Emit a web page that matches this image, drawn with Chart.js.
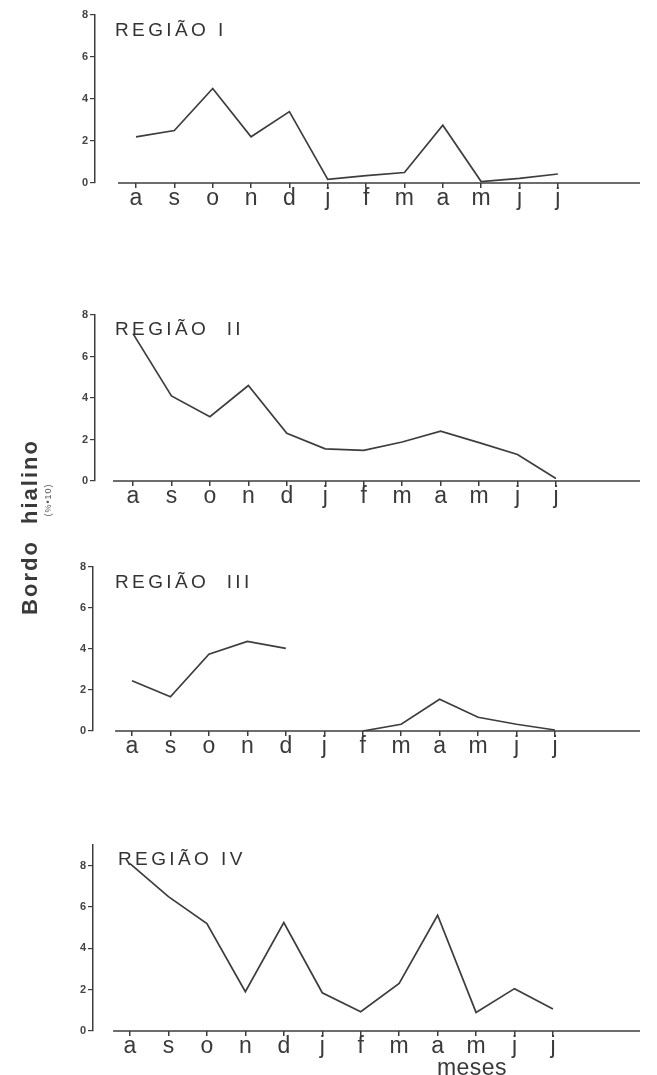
<!DOCTYPE html>
<html>
<head>
<meta charset="utf-8">
<script src="https://cdn.jsdelivr.net/npm/chart.js@4.4.1/dist/chart.umd.min.js"></script>
<style>
  html, body { margin: 0; padding: 0; background: #fff; }
  body { width: 657px; height: 1075px; position: relative; overflow: hidden;
         font-family: "Liberation Sans", Arial, sans-serif; color: #3a3a3a; }
  canvas.painel { position: absolute; left: 0; }
  .titulo { position: absolute; font-size: 19px; line-height: 19px; letter-spacing: 3.4px; color: #333; white-space: pre; }
  .eixo-y { position: absolute; left: 30px; top: 527px; transform: translate(-50%, -50%) rotate(-90deg);
            font-size: 22px; font-weight: bold; letter-spacing: 2px; white-space: pre; color: #3a3a3a; }
  .unidade { position: absolute; left: 48px; top: 500px; transform: translate(-50%, -50%) rotate(-90deg);
             font-size: 9px; letter-spacing: 1px; white-space: pre; color: #555; }
  .meses { position: absolute; left: 472px; top: 1067px; transform: translate(-50%, -50%);
           font-size: 23px; line-height: 23px; letter-spacing: 0.5px; color: #3a3a3a; }
</style>
</head>
<body>
<canvas id="p1" class="painel" width="657" height="218" style="top:5px"></canvas>
<canvas id="p2" class="painel" width="657" height="216" style="top:305px"></canvas>
<canvas id="p3" class="painel" width="657" height="214" style="top:557px"></canvas>
<canvas id="p4" class="painel" width="657" height="236" style="top:835px"></canvas>

<div class="titulo" style="left:115px; top:20px">REGIÃO I</div>
<div class="titulo" style="left:115px; top:319px">REGIÃO  II</div>
<div class="titulo" style="left:115px; top:572px">REGIÃO  III</div>
<div class="titulo" style="left:118px; top:849px">REGIÃO IV</div>
<div class="eixo-y">Bordo  hialino</div>
<div class="unidade">(%•10)</div>
<div class="meses">meses</div>

<script>
const meses = ['a', 's', 'o', 'n', 'd', 'j', 'f', 'm', 'a', 'm', 'j', 'j'];
const yTicks = [0, 2, 4, 6, 8];

const regiaoI = [2.2, 2.5, 4.5, 2.2, 3.4, 0.17, 0.35, 0.5, 2.75, 0.07, 0.22, 0.43];
const regiaoII = [7.1, 4.1, 3.1, 4.6, 2.3, 1.55, 1.48, 1.88, 2.4, 1.85, 1.28, 0.12];
const regiaoIII = [2.45, 1.67, 3.75, 4.37, 4.03, null, 0, 0.33, 1.55, 0.67, 0.33, 0.05];
const regiaoIV = [8.1, 6.5, 5.2, 1.9, 5.25, 1.85, 0.93, 2.3, 5.6, 0.9, 2.05, 1.07];

const cor = '#3d3d3d';

// linha de base do eixo x, que começa um pouco depois do eixo y
const linhaBase = {
  id: 'linhaBase',
  beforeDatasetsDraw(chart, args, opts) {
    const { ctx, chartArea, scales } = chart;
    const y0 = scales.y.getPixelForValue(0);
    ctx.save();
    ctx.strokeStyle = cor;
    ctx.lineWidth = 1.5;
    ctx.beginPath();
    ctx.moveTo(scales.x.getPixelForValue(opts.inicio), y0);
    ctx.lineTo(chartArea.right, y0);
    ctx.stroke();
    ctx.restore();
  },
};

const painel = (id, valores, cfg) => {
  // cfg: largura do eixo y, posição do primeiro mês, passo entre meses
  const larg = 657 - 17 - cfg.esq;
  const min = -(cfg.primeiro - cfg.esq) / cfg.passo;
  const max = min + larg / cfg.passo;
  return new Chart(document.getElementById(id), {
    type: 'line',
    data: {
      datasets: [{
        data: valores.map((v, i) => ({ x: i, y: v })),
        borderColor: cor,
        borderWidth: 1.7,
        pointRadius: 0,
        tension: 0,
        spanGaps: false,
      }],
    },
    plugins: [linhaBase],
    options: {
      responsive: false,
      animation: false,
      events: [],
      layout: { padding: { top: 10, right: 17, left: 0, bottom: 0 } },
      plugins: {
        legend: { display: false },
        tooltip: { enabled: false },
        linhaBase: { inicio: cfg.inicioBase },
      },
      scales: {
        x: {
          type: 'linear',
          min: min,
          max: max,
          afterBuildTicks: (s) => { s.ticks = meses.map((m, i) => ({ value: i })); },
          afterFit: (s) => { s.height = 40; },
          border: { display: false },
          grid: { drawOnChartArea: false, drawTicks: true, tickLength: 5, color: cor, lineWidth: 1.5 },
          ticks: {
            callback: (v) => meses[v],
            autoSkip: false,
            maxRotation: 0,
            padding: -3,
            color: '#3a3a3a',
            font: { family: '"Liberation Sans", Arial, sans-serif', size: 23 },
          },
        },
        y: {
          min: 0,
          max: cfg.ymax,
          afterBuildTicks: (s) => { s.ticks = yTicks.map((v) => ({ value: v })); },
          afterFit: (s) => { s.width = cfg.esq; },
          border: { display: true, color: cor, width: 1.5 },
          grid: { drawOnChartArea: false, drawTicks: true, tickLength: 5, color: cor, lineWidth: 1.2 },
          ticks: {
            padding: 2,
            color: '#444',
            font: { family: '"Liberation Sans", Arial, sans-serif', size: 11, weight: 'bold' },
          },
        },
      },
    },
  });
};

painel('p1', regiaoI, { esq: 95, primeiro: 136, passo: 38.35, inicioBase: -0.47, ymax: 8 });
painel('p2', regiaoII, { esq: 95, primeiro: 133, passo: 38.45, inicioBase: -0.52, ymax: 8 });
painel('p3', regiaoIII, { esq: 93, primeiro: 132, passo: 38.45, inicioBase: -0.44, ymax: 8 });
painel('p4', regiaoIV, { esq: 93, primeiro: 130, passo: 38.45, inicioBase: -0.44, ymax: 9 });
</script>
</body>
</html>
